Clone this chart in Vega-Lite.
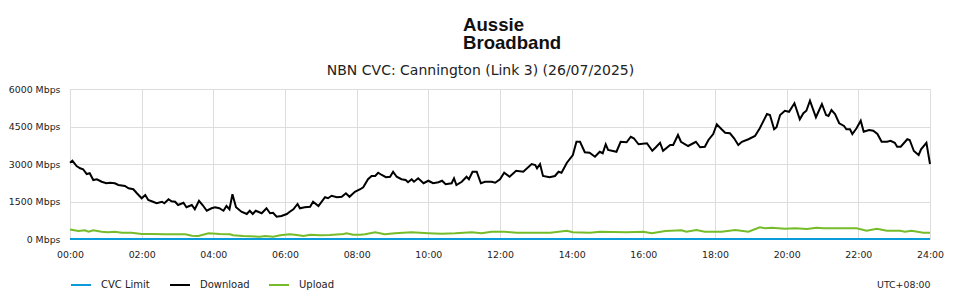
{
"$schema": "https://vega.github.io/schema/vega-lite/v6.json",
"width": 860,
"height": 150,
"autosize": {"type": "none"},
"padding": {"left": 70, "top": 89, "right": 30, "bottom": 61},
"background": "white",
"title": {
  "text": "Aussie",
  "subtitle": "Broadband",
  "align": "left",
  "anchor": "middle",
  "frame": "group",
  "dx": -37,
  "font": "Liberation Sans",
  "fontSize": 18.6,
  "fontWeight": "bold",
  "color": "#111111",
  "subtitleFont": "Liberation Sans",
  "subtitleFontSize": 18.6,
  "subtitleFontWeight": "bold",
  "subtitleColor": "#111111",
  "subtitlePadding": 0,
  "offset": 10
},
"data": {
"format": {"parse": {"t": "utc:'%Y-%m-%dT%H:%M'"}},
"values": [
{"t":"2025-07-26T00:00","s":"CVC Limit","v":0},
{"t":"2025-07-27T00:00","s":"CVC Limit","v":0},
{"t":"2025-07-26T00:00","s":"Download","v":3050},
{"t":"2025-07-26T00:04","s":"Download","v":3130},
{"t":"2025-07-26T00:11","s":"Download","v":2920},
{"t":"2025-07-26T00:17","s":"Download","v":2830},
{"t":"2025-07-26T00:22","s":"Download","v":2790},
{"t":"2025-07-26T00:28","s":"Download","v":2600},
{"t":"2025-07-26T00:33","s":"Download","v":2630},
{"t":"2025-07-26T00:39","s":"Download","v":2360},
{"t":"2025-07-26T00:45","s":"Download","v":2390},
{"t":"2025-07-26T00:53","s":"Download","v":2290},
{"t":"2025-07-26T01:01","s":"Download","v":2230},
{"t":"2025-07-26T01:07","s":"Download","v":2250},
{"t":"2025-07-26T01:15","s":"Download","v":2230},
{"t":"2025-07-26T01:21","s":"Download","v":2160},
{"t":"2025-07-26T01:32","s":"Download","v":2120},
{"t":"2025-07-26T01:38","s":"Download","v":2030},
{"t":"2025-07-26T01:46","s":"Download","v":1990},
{"t":"2025-07-26T01:52","s":"Download","v":1830},
{"t":"2025-07-26T02:00","s":"Download","v":1630},
{"t":"2025-07-26T02:06","s":"Download","v":1760},
{"t":"2025-07-26T02:11","s":"Download","v":1560},
{"t":"2025-07-26T02:19","s":"Download","v":1490},
{"t":"2025-07-26T02:25","s":"Download","v":1430},
{"t":"2025-07-26T02:34","s":"Download","v":1490},
{"t":"2025-07-26T02:38","s":"Download","v":1430},
{"t":"2025-07-26T02:45","s":"Download","v":1590},
{"t":"2025-07-26T02:50","s":"Download","v":1510},
{"t":"2025-07-26T02:56","s":"Download","v":1490},
{"t":"2025-07-26T03:01","s":"Download","v":1360},
{"t":"2025-07-26T03:10","s":"Download","v":1450},
{"t":"2025-07-26T03:15","s":"Download","v":1270},
{"t":"2025-07-26T03:24","s":"Download","v":1360},
{"t":"2025-07-26T03:29","s":"Download","v":1190},
{"t":"2025-07-26T03:36","s":"Download","v":1530},
{"t":"2025-07-26T03:42","s":"Download","v":1360},
{"t":"2025-07-26T03:49","s":"Download","v":1130},
{"t":"2025-07-26T03:57","s":"Download","v":1230},
{"t":"2025-07-26T04:03","s":"Download","v":1270},
{"t":"2025-07-26T04:10","s":"Download","v":1230},
{"t":"2025-07-26T04:17","s":"Download","v":1130},
{"t":"2025-07-26T04:22","s":"Download","v":1320},
{"t":"2025-07-26T04:27","s":"Download","v":1190},
{"t":"2025-07-26T04:32","s":"Download","v":1790},
{"t":"2025-07-26T04:38","s":"Download","v":1270},
{"t":"2025-07-26T04:47","s":"Download","v":1090},
{"t":"2025-07-26T04:56","s":"Download","v":1000},
{"t":"2025-07-26T05:01","s":"Download","v":1130},
{"t":"2025-07-26T05:06","s":"Download","v":1000},
{"t":"2025-07-26T05:11","s":"Download","v":1130},
{"t":"2025-07-26T05:21","s":"Download","v":1030},
{"t":"2025-07-26T05:29","s":"Download","v":1230},
{"t":"2025-07-26T05:35","s":"Download","v":1030},
{"t":"2025-07-26T05:40","s":"Download","v":1050},
{"t":"2025-07-26T05:46","s":"Download","v":890},
{"t":"2025-07-26T05:54","s":"Download","v":920},
{"t":"2025-07-26T06:03","s":"Download","v":1000},
{"t":"2025-07-26T06:08","s":"Download","v":1090},
{"t":"2025-07-26T06:14","s":"Download","v":1190},
{"t":"2025-07-26T06:21","s":"Download","v":1400},
{"t":"2025-07-26T06:25","s":"Download","v":1230},
{"t":"2025-07-26T06:33","s":"Download","v":1270},
{"t":"2025-07-26T06:42","s":"Download","v":1290},
{"t":"2025-07-26T06:47","s":"Download","v":1490},
{"t":"2025-07-26T06:56","s":"Download","v":1320},
{"t":"2025-07-26T07:07","s":"Download","v":1670},
{"t":"2025-07-26T07:12","s":"Download","v":1630},
{"t":"2025-07-26T07:18","s":"Download","v":1730},
{"t":"2025-07-26T07:27","s":"Download","v":1670},
{"t":"2025-07-26T07:35","s":"Download","v":1690},
{"t":"2025-07-26T07:42","s":"Download","v":1830},
{"t":"2025-07-26T07:48","s":"Download","v":1690},
{"t":"2025-07-26T07:57","s":"Download","v":1890},
{"t":"2025-07-26T08:06","s":"Download","v":1990},
{"t":"2025-07-26T08:11","s":"Download","v":2070},
{"t":"2025-07-26T08:19","s":"Download","v":2390},
{"t":"2025-07-26T08:25","s":"Download","v":2520},
{"t":"2025-07-26T08:31","s":"Download","v":2520},
{"t":"2025-07-26T08:36","s":"Download","v":2650},
{"t":"2025-07-26T08:42","s":"Download","v":2560},
{"t":"2025-07-26T08:49","s":"Download","v":2470},
{"t":"2025-07-26T08:56","s":"Download","v":2490},
{"t":"2025-07-26T09:01","s":"Download","v":2690},
{"t":"2025-07-26T09:07","s":"Download","v":2490},
{"t":"2025-07-26T09:15","s":"Download","v":2390},
{"t":"2025-07-26T09:22","s":"Download","v":2360},
{"t":"2025-07-26T09:26","s":"Download","v":2270},
{"t":"2025-07-26T09:32","s":"Download","v":2390},
{"t":"2025-07-26T09:36","s":"Download","v":2290},
{"t":"2025-07-26T09:43","s":"Download","v":2430},
{"t":"2025-07-26T09:52","s":"Download","v":2230},
{"t":"2025-07-26T10:00","s":"Download","v":2330},
{"t":"2025-07-26T10:08","s":"Download","v":2230},
{"t":"2025-07-26T10:17","s":"Download","v":2270},
{"t":"2025-07-26T10:23","s":"Download","v":2330},
{"t":"2025-07-26T10:29","s":"Download","v":2190},
{"t":"2025-07-26T10:39","s":"Download","v":2230},
{"t":"2025-07-26T10:43","s":"Download","v":2430},
{"t":"2025-07-26T10:47","s":"Download","v":2160},
{"t":"2025-07-26T10:56","s":"Download","v":2290},
{"t":"2025-07-26T11:04","s":"Download","v":2490},
{"t":"2025-07-26T11:08","s":"Download","v":2390},
{"t":"2025-07-26T11:14","s":"Download","v":2690},
{"t":"2025-07-26T11:21","s":"Download","v":2690},
{"t":"2025-07-26T11:28","s":"Download","v":2230},
{"t":"2025-07-26T11:35","s":"Download","v":2290},
{"t":"2025-07-26T11:46","s":"Download","v":2290},
{"t":"2025-07-26T11:52","s":"Download","v":2250},
{"t":"2025-07-26T12:00","s":"Download","v":2390},
{"t":"2025-07-26T12:07","s":"Download","v":2650},
{"t":"2025-07-26T12:16","s":"Download","v":2490},
{"t":"2025-07-26T12:27","s":"Download","v":2730},
{"t":"2025-07-26T12:39","s":"Download","v":2690},
{"t":"2025-07-26T12:53","s":"Download","v":3000},
{"t":"2025-07-26T12:59","s":"Download","v":2960},
{"t":"2025-07-26T13:02","s":"Download","v":2830},
{"t":"2025-07-26T13:07","s":"Download","v":3000},
{"t":"2025-07-26T13:12","s":"Download","v":2520},
{"t":"2025-07-26T13:23","s":"Download","v":2470},
{"t":"2025-07-26T13:32","s":"Download","v":2520},
{"t":"2025-07-26T13:38","s":"Download","v":2690},
{"t":"2025-07-26T13:43","s":"Download","v":2650},
{"t":"2025-07-26T13:52","s":"Download","v":3050},
{"t":"2025-07-26T14:02","s":"Download","v":3360},
{"t":"2025-07-26T14:08","s":"Download","v":3890},
{"t":"2025-07-26T14:14","s":"Download","v":3890},
{"t":"2025-07-26T14:22","s":"Download","v":3470},
{"t":"2025-07-26T14:30","s":"Download","v":3450},
{"t":"2025-07-26T14:39","s":"Download","v":3290},
{"t":"2025-07-26T14:47","s":"Download","v":3490},
{"t":"2025-07-26T14:52","s":"Download","v":3430},
{"t":"2025-07-26T14:57","s":"Download","v":3790},
{"t":"2025-07-26T15:01","s":"Download","v":3560},
{"t":"2025-07-26T15:15","s":"Download","v":3490},
{"t":"2025-07-26T15:22","s":"Download","v":3890},
{"t":"2025-07-26T15:32","s":"Download","v":3870},
{"t":"2025-07-26T15:39","s":"Download","v":4090},
{"t":"2025-07-26T15:44","s":"Download","v":4030},
{"t":"2025-07-26T15:52","s":"Download","v":3790},
{"t":"2025-07-26T16:06","s":"Download","v":3830},
{"t":"2025-07-26T16:15","s":"Download","v":3530},
{"t":"2025-07-26T16:21","s":"Download","v":3670},
{"t":"2025-07-26T16:28","s":"Download","v":3850},
{"t":"2025-07-26T16:33","s":"Download","v":3530},
{"t":"2025-07-26T16:45","s":"Download","v":3760},
{"t":"2025-07-26T16:50","s":"Download","v":3760},
{"t":"2025-07-26T16:58","s":"Download","v":4160},
{"t":"2025-07-26T17:03","s":"Download","v":3890},
{"t":"2025-07-26T17:15","s":"Download","v":3720},
{"t":"2025-07-26T17:28","s":"Download","v":3890},
{"t":"2025-07-26T17:35","s":"Download","v":3670},
{"t":"2025-07-26T17:43","s":"Download","v":3690},
{"t":"2025-07-26T17:49","s":"Download","v":3960},
{"t":"2025-07-26T17:57","s":"Download","v":4200},
{"t":"2025-07-26T18:03","s":"Download","v":4590},
{"t":"2025-07-26T18:11","s":"Download","v":4390},
{"t":"2025-07-26T18:17","s":"Download","v":4250},
{"t":"2025-07-26T18:25","s":"Download","v":4230},
{"t":"2025-07-26T18:32","s":"Download","v":4030},
{"t":"2025-07-26T18:39","s":"Download","v":3760},
{"t":"2025-07-26T18:45","s":"Download","v":3890},
{"t":"2025-07-26T18:56","s":"Download","v":3990},
{"t":"2025-07-26T19:07","s":"Download","v":4120},
{"t":"2025-07-26T19:15","s":"Download","v":4430},
{"t":"2025-07-26T19:27","s":"Download","v":5000},
{"t":"2025-07-26T19:32","s":"Download","v":4960},
{"t":"2025-07-26T19:39","s":"Download","v":4390},
{"t":"2025-07-26T19:43","s":"Download","v":4470},
{"t":"2025-07-26T19:49","s":"Download","v":4960},
{"t":"2025-07-26T19:57","s":"Download","v":5130},
{"t":"2025-07-26T20:04","s":"Download","v":5090},
{"t":"2025-07-26T20:13","s":"Download","v":5430},
{"t":"2025-07-26T20:22","s":"Download","v":4790},
{"t":"2025-07-26T20:28","s":"Download","v":5030},
{"t":"2025-07-26T20:33","s":"Download","v":5130},
{"t":"2025-07-26T20:39","s":"Download","v":5530},
{"t":"2025-07-26T20:49","s":"Download","v":4870},
{"t":"2025-07-26T20:59","s":"Download","v":5400},
{"t":"2025-07-26T21:06","s":"Download","v":4960},
{"t":"2025-07-26T21:10","s":"Download","v":4920},
{"t":"2025-07-26T21:15","s":"Download","v":5160},
{"t":"2025-07-26T21:21","s":"Download","v":5000},
{"t":"2025-07-26T21:28","s":"Download","v":4630},
{"t":"2025-07-26T21:36","s":"Download","v":4520},
{"t":"2025-07-26T21:40","s":"Download","v":4390},
{"t":"2025-07-26T21:46","s":"Download","v":4390},
{"t":"2025-07-26T21:50","s":"Download","v":4200},
{"t":"2025-07-26T21:57","s":"Download","v":4430},
{"t":"2025-07-26T22:04","s":"Download","v":4730},
{"t":"2025-07-26T22:09","s":"Download","v":4290},
{"t":"2025-07-26T22:18","s":"Download","v":4360},
{"t":"2025-07-26T22:25","s":"Download","v":4330},
{"t":"2025-07-26T22:32","s":"Download","v":4200},
{"t":"2025-07-26T22:39","s":"Download","v":3890},
{"t":"2025-07-26T22:48","s":"Download","v":3890},
{"t":"2025-07-26T22:54","s":"Download","v":3930},
{"t":"2025-07-26T23:01","s":"Download","v":3850},
{"t":"2025-07-26T23:05","s":"Download","v":3690},
{"t":"2025-07-26T23:11","s":"Download","v":3690},
{"t":"2025-07-26T23:22","s":"Download","v":3990},
{"t":"2025-07-26T23:26","s":"Download","v":3960},
{"t":"2025-07-26T23:33","s":"Download","v":3520},
{"t":"2025-07-26T23:41","s":"Download","v":3360},
{"t":"2025-07-26T23:45","s":"Download","v":3590},
{"t":"2025-07-26T23:54","s":"Download","v":3850},
{"t":"2025-07-27T00:00","s":"Download","v":3000},
{"t":"2025-07-26T00:00","s":"Upload","v":380},
{"t":"2025-07-26T00:14","s":"Upload","v":320},
{"t":"2025-07-26T00:25","s":"Upload","v":350},
{"t":"2025-07-26T00:31","s":"Upload","v":290},
{"t":"2025-07-26T00:39","s":"Upload","v":350},
{"t":"2025-07-26T00:53","s":"Upload","v":290},
{"t":"2025-07-26T01:04","s":"Upload","v":270},
{"t":"2025-07-26T01:15","s":"Upload","v":290},
{"t":"2025-07-26T01:27","s":"Upload","v":250},
{"t":"2025-07-26T01:43","s":"Upload","v":250},
{"t":"2025-07-26T02:00","s":"Upload","v":200},
{"t":"2025-07-26T02:17","s":"Upload","v":200},
{"t":"2025-07-26T02:39","s":"Upload","v":190},
{"t":"2025-07-26T02:56","s":"Upload","v":190},
{"t":"2025-07-26T03:13","s":"Upload","v":190},
{"t":"2025-07-26T03:24","s":"Upload","v":130},
{"t":"2025-07-26T03:35","s":"Upload","v":120},
{"t":"2025-07-26T03:52","s":"Upload","v":230},
{"t":"2025-07-26T04:11","s":"Upload","v":200},
{"t":"2025-07-26T04:28","s":"Upload","v":190},
{"t":"2025-07-26T04:33","s":"Upload","v":150},
{"t":"2025-07-26T04:50","s":"Upload","v":120},
{"t":"2025-07-26T05:18","s":"Upload","v":90},
{"t":"2025-07-26T05:27","s":"Upload","v":120},
{"t":"2025-07-26T05:40","s":"Upload","v":90},
{"t":"2025-07-26T05:52","s":"Upload","v":150},
{"t":"2025-07-26T06:08","s":"Upload","v":190},
{"t":"2025-07-26T06:20","s":"Upload","v":160},
{"t":"2025-07-26T06:31","s":"Upload","v":120},
{"t":"2025-07-26T06:42","s":"Upload","v":170},
{"t":"2025-07-26T06:59","s":"Upload","v":150},
{"t":"2025-07-26T07:15","s":"Upload","v":160},
{"t":"2025-07-26T07:38","s":"Upload","v":200},
{"t":"2025-07-26T07:43","s":"Upload","v":230},
{"t":"2025-07-26T07:54","s":"Upload","v":170},
{"t":"2025-07-26T08:06","s":"Upload","v":170},
{"t":"2025-07-26T08:14","s":"Upload","v":190},
{"t":"2025-07-26T08:31","s":"Upload","v":270},
{"t":"2025-07-26T08:47","s":"Upload","v":190},
{"t":"2025-07-26T09:04","s":"Upload","v":230},
{"t":"2025-07-26T09:32","s":"Upload","v":270},
{"t":"2025-07-26T10:00","s":"Upload","v":230},
{"t":"2025-07-26T10:22","s":"Upload","v":210},
{"t":"2025-07-26T10:45","s":"Upload","v":230},
{"t":"2025-07-26T11:13","s":"Upload","v":270},
{"t":"2025-07-26T11:29","s":"Upload","v":230},
{"t":"2025-07-26T11:46","s":"Upload","v":290},
{"t":"2025-07-26T12:08","s":"Upload","v":290},
{"t":"2025-07-26T12:28","s":"Upload","v":250},
{"t":"2025-07-26T13:24","s":"Upload","v":250},
{"t":"2025-07-26T13:52","s":"Upload","v":330},
{"t":"2025-07-26T14:02","s":"Upload","v":270},
{"t":"2025-07-26T14:31","s":"Upload","v":250},
{"t":"2025-07-26T14:47","s":"Upload","v":290},
{"t":"2025-07-26T15:32","s":"Upload","v":270},
{"t":"2025-07-26T16:00","s":"Upload","v":290},
{"t":"2025-07-26T16:14","s":"Upload","v":230},
{"t":"2025-07-26T16:37","s":"Upload","v":320},
{"t":"2025-07-26T17:04","s":"Upload","v":350},
{"t":"2025-07-26T17:12","s":"Upload","v":290},
{"t":"2025-07-26T17:29","s":"Upload","v":360},
{"t":"2025-07-26T17:43","s":"Upload","v":290},
{"t":"2025-07-26T18:11","s":"Upload","v":290},
{"t":"2025-07-26T18:34","s":"Upload","v":360},
{"t":"2025-07-26T18:56","s":"Upload","v":290},
{"t":"2025-07-26T19:15","s":"Upload","v":470},
{"t":"2025-07-26T19:24","s":"Upload","v":430},
{"t":"2025-07-26T19:35","s":"Upload","v":450},
{"t":"2025-07-26T19:57","s":"Upload","v":410},
{"t":"2025-07-26T20:14","s":"Upload","v":430},
{"t":"2025-07-26T20:34","s":"Upload","v":400},
{"t":"2025-07-26T20:50","s":"Upload","v":450},
{"t":"2025-07-26T21:01","s":"Upload","v":430},
{"t":"2025-07-26T21:57","s":"Upload","v":430},
{"t":"2025-07-26T22:14","s":"Upload","v":330},
{"t":"2025-07-26T22:31","s":"Upload","v":410},
{"t":"2025-07-26T22:48","s":"Upload","v":330},
{"t":"2025-07-26T23:10","s":"Upload","v":330},
{"t":"2025-07-26T23:18","s":"Upload","v":290},
{"t":"2025-07-26T23:29","s":"Upload","v":330},
{"t":"2025-07-26T23:49","s":"Upload","v":250},
{"t":"2025-07-27T00:00","s":"Upload","v":250}
]},
"mark": {"type": "line", "strokeWidth": 2},
"encoding": {
  "x": {
    "field": "t", "type": "temporal",
    "scale": {"type": "utc", "domain": [1753488000000, 1753574400000]},
    "axis": {
      "values": [1753488000000, 1753495200000, 1753502400000, 1753509600000, 1753516800000, 1753524000000, 1753531200000, 1753538400000, 1753545600000, 1753552800000, 1753560000000, 1753567200000, 1753574400000],
      "labelExpr": "datum.value >= 1753574400000 ? '24:00' : utcFormat(datum.value, '%H:%M')",
      "grid": true, "gridColor": "#dddddd", "gridWidth": 1,
      "domain": false, "ticks": false,
      "labelPadding": 11, "labelFont": "DejaVu Sans", "labelFontSize": 9.4, "labelColor": "#222222",
      "labelFlush": false,
      "title": "UTC+08:00", "titleAnchor": "end", "titleFont": "DejaVu Sans", "titleFontSize": 9.4,
      "titleFontWeight": "normal", "titleColor": "#222222", "titlePadding": 22
    }
  },
  "y": {
    "field": "v", "type": "quantitative",
    "scale": {"domain": [0, 6000]},
    "axis": {
      "values": [0, 1500, 3000, 4500, 6000],
      "labelExpr": "datum.value + ' Mbps'",
      "grid": true, "gridColor": "#dddddd", "gridWidth": 1,
      "domain": false, "ticks": false,
      "labelPadding": 10, "labelFont": "DejaVu Sans", "labelFontSize": 9.4, "labelColor": "#222222",
      "title": "NBN CVC: Cannington (Link 3) (26/07/2025)",
      "titleAngle": 0, "titleX": 410, "titleY": -12, "titleAlign": "center", "titleBaseline": "bottom",
      "titleFont": "DejaVu Sans", "titleFontSize": 14, "titleFontWeight": "normal", "titleColor": "#222222"
    }
  },
  "color": {
    "field": "s", "type": "nominal",
    "scale": {"domain": ["CVC Limit", "Download", "Upload"], "range": ["#0a9bdb", "#000000", "#76bc2a"]},
    "legend": {
      "orient": "none", "legendX": 0, "legendY": 185,
      "direction": "horizontal", "title": null,
      "symbolType": "stroke", "symbolSize": 400, "symbolStrokeWidth": 2,
      "labelFont": "DejaVu Sans", "labelFontSize": 10, "labelColor": "#222222",
      "labelOffset": 9, "columnPadding": 15, "gridAlign": "all"
    }
  }
},
"config": {"view": {"stroke": "#dddddd"}}
}
